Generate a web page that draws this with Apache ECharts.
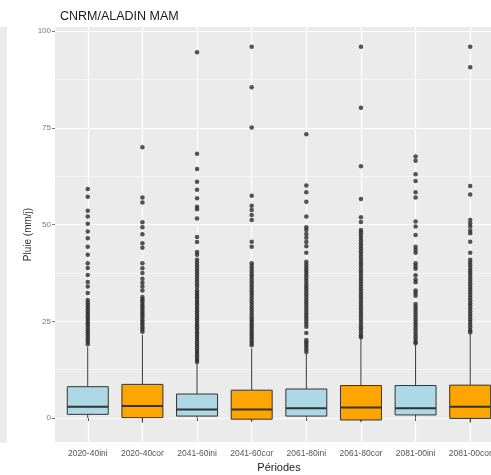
<!DOCTYPE html>
<html>
<head>
<meta charset="utf-8">
<script src="https://cdn.jsdelivr.net/npm/echarts@6/dist/echarts.min.js"></script>
<style>
  html, body { margin: 0; padding: 0; background: #fff; }
  #chart { width: 491px; height: 475px; }
</style>
</head>
<body>
<div id="chart"></div>
<script>
// catégories (périodes)
const periodes = ['2020-40ini', '2020-40cor', '2041-60ini', '2041-60cor', '2061-80ini', '2061-80cor', '2081-00ini', '2081-00cor']
// boîtes : [min, q1, médiane, q3, max]
const boites = [
  [0, 0.95, 2.9, 8.1, 18.4],
  [-1.2, 0.1, 3.1, 8.7, 21.5],
  [0.1, 0.5, 2.2, 6.2, 14],
  [-1, -0.3, 2.2, 7.2, 18],
  [0.1, 0.5, 2.5, 7.5, 16.7],
  [-1.1, -0.5, 2.7, 8.4, 20.6],
  [0.1, 0.8, 2.5, 8.4, 18.9],
  [-1.2, -0.1, 2.9, 8.5, 21.9]
]
// valeurs extrêmes (outliers) par période
const out2020ini = [59.2, 57.2, 53.6, 52.1, 50.2, 48.2, 46.5, 44.3, 42.2, 40, 38.8, 37, 35.2, 34, 32.3,
  30.5, 29.9, 29.3, 28.7, 28.1, 27.5, 26.9, 26.3, 25.7, 25.1, 24.5, 23.9, 23.3, 22.7, 22.1, 21.5, 20.9, 20.3, 19.7, 19.1]
const out2020cor = [70, 57, 55.7, 50.6, 49.3, 47.5, 45.2, 44, 40, 38.7, 37.5, 36, 35, 34, 33, 31.3,
  30.7, 30.1, 29.5, 28.9, 28.3, 27.7, 27.1, 26.5, 25.9, 25.3, 24.7, 24.1, 23.5, 22.9, 22.3]
const out2041ini = [94.6, 68.3, 64.4, 61.1, 59, 56.8, 54.6, 54, 51.6, 46.8, 45.5, 42.9, 42.2, 40.9, 40.2, 39.5, 38.8,
  38.1, 37.4, 36.7, 36, 35.3, 34.6, 33.9, 33, 32.4, 31.8, 31.2, 30.6, 30, 29.4, 28.8, 28.2, 27.6, 27, 26.4, 25.8,
  25.2, 24.6, 24, 23.4, 22.8, 22.2, 21.6, 21, 20.4, 19.8, 19.2, 18.6, 18, 17.4, 16.8, 16.2, 15.6, 15, 14.5]
const out2041cor = [96, 85.5, 75.1, 57.5, 54.9, 53.8, 52.5, 51.2, 45.6, 44.3, 40, 39.3, 38.6, 37.9, 37.2, 36.5,
  35.8, 35.1, 34.4, 33.7, 33, 32.3, 31.6, 30.9, 30.2, 29.5, 28.8, 28.1, 27.4, 26.7, 26, 25.4, 24.8, 24.2, 23.6,
  23, 22.4, 21.8, 21.2, 20.6, 20, 19.4, 18.8]
const out2061ini = [73.4, 60.1, 58.4, 55.9, 52.1, 49.3, 48.6, 47.6, 46.6, 45.5, 44.4, 42.7, 40.4, 39.7, 39, 38.3,
  37.6, 36.9, 36.2, 35.5, 34.8, 34.1, 33.4, 32.7, 32, 31.3, 30.6, 29.9, 29.2, 28.5, 27.8, 27.1, 26.4, 25.7, 25,
  24.3, 23.6, 22, 20.2, 19.6, 19, 18.4, 17.8, 17.1]
const out2061cor = [96, 80.2, 65.1, 56.6, 51.9, 50.7, 48.6, 48, 47.3, 46.6, 45.9, 45.2, 44.5, 43.8, 43.1, 42.4,
  41.7, 41, 40.3, 39.6, 38.9, 38.2, 37.5, 36.8, 36.1, 35.4, 34.7, 34, 33.3, 32.6, 31.9, 31.2, 30.5, 29.8, 29.1,
  28.4, 27.7, 27, 26.3, 25.6, 24.9, 24.2, 23.5, 22.8, 22.1, 21.4, 20.9]
const out2081ini = [67.6, 66.5, 63, 61.3, 58.4, 57, 50.8, 49.5, 47.3, 44.3, 43.5, 42.7, 40, 39.3, 38.6, 36.9,
  35.8, 35.1, 33, 32.3, 31.6, 29.5, 28.8, 28.1, 27.4, 26.7, 26, 25.3, 24.6, 23.9, 23.2, 22.5, 21.8, 21.1, 20.4,
  19.7, 19.3]
const out2081cor = [96, 90.7, 60, 57.8, 51.2, 50.3, 49.5, 48.5, 47.8, 45.6, 42.7, 40.9, 40.2, 39.5, 38.8, 38.1,
  37.4, 36.7, 36, 35.3, 34.6, 33.9, 33.2, 32.5, 31.8, 31.1, 30.4, 29.7, 29, 28.3, 27.6, 26.9, 26.2, 25.5, 24.8,
  24.1, 23.4, 22.7, 22.2]
const outliers = [out2020ini, out2020cor, out2041ini, out2041cor, out2061ini, out2061cor, out2081ini, out2081cor]
// graduations
const xPos = [1, 2, 3, 4, 5, 6, 7, 8]
const yLabels = [0, 25, 50, 75, 100]
const yGrid = [0, 12.5, 25, 37.5, 50, 62.5, 75, 87.5, 100]

const fillIni = '#add8e6'
const fillCor = '#ffa500'

let boxData = boites.map((b, i) => [xPos[i]].concat(b))
let outData = []
outliers.forEach((arr, i) => {
  arr.forEach(v => outData.push([xPos[i], v]))
})

const chart = echarts.init(document.getElementById('chart'))
chart.setOption({
  animation: false,
  backgroundColor: '#fff',
  textStyle: { fontFamily: 'Liberation Sans, Arial, sans-serif' },
  title: {
    text: 'CNRM/ALADIN MAM',
    left: 55,
    top: 5,
    textStyle: { fontSize: 12.5, fontWeight: 'normal', color: '#1a1a1a' }
  },
  // le panneau dépasse à droite de l'image (coupé)
  grid: {
    left: 55,
    top: 27,
    width: 448,
    height: 415,
    outerBoundsMode: 'none',
    show: true,
    backgroundColor: '#ebebeb',
    borderWidth: 0
  },
  xAxis: {
    type: 'value',
    min: 0.4,
    max: 8.6,
    name: 'Périodes',
    nameLocation: 'middle',
    nameMoveOverlap: false,
    nameGap: 20,
    nameTextStyle: { fontSize: 11, color: '#1a1a1a' },
    axisLine: { show: false },
    axisTick: { show: true, length: 3, customValues: xPos, lineStyle: { color: '#555' } },
    axisLabel: {
      fontSize: 8.5, color: '#555', margin: 7, customValues: xPos,
      formatter: v => periodes[v - 1]
    },
    splitLine: { show: true, lineStyle: { color: '#fff', width: 1.2 } }
  },
  yAxis: [{
    type: 'value',
    min: -6.2,
    max: 101.1,
    name: 'Pluie (mm/j)',
    nameLocation: 'middle',
    nameMoveOverlap: false,
    nameGap: 22,
    nameTextStyle: { fontSize: 10, color: '#333' },
    axisLine: { show: false },
    axisTick: { show: true, length: 3, customValues: yLabels, lineStyle: { color: '#777' } },
    axisLabel: { fontSize: 8, color: '#777', margin: 4, customValues: yLabels },
    splitLine: { show: false }
  }, {
    type: 'value',
    min: -6.2,
    max: 101.1,
    position: 'left',
    axisLine: { show: false },
    axisTick: { show: false, customValues: yGrid },
    axisLabel: { show: false },
    splitLine: { show: true, lineStyle: { color: ['#ffffff', '#f6f6f6'], width: 1 } }
  }],
  graphic: [
    { type: 'rect', shape: { x: 0, y: 27, width: 7, height: 416 }, style: { fill: '#ebebeb' }, z: -1 }
  ],
  series: [{
    type: 'custom',
    data: boxData,
    encode: { x: 0, y: [1, 2, 3, 4, 5] },
    z: 3,
    renderItem(params, api) {
      const x = api.value(0)
      const pMin = api.coord([x, api.value(1)])
      const pQ1 = api.coord([x, api.value(2)])
      const pMed = api.coord([x, api.value(3)])
      const pQ3 = api.coord([x, api.value(4)])
      const pMax = api.coord([x, api.value(5)])
      const w = api.size([1, 0])[0] * 0.75
      const cx = pQ1[0]
      const fill = periodes[params.dataIndex].endsWith('ini') ? fillIni : fillCor
      const lineStyle = { stroke: '#333', lineWidth: 1 }
      return {
        type: 'group',
        children: [
          { type: 'line', shape: { x1: cx, y1: pQ3[1], x2: cx, y2: pMax[1] }, style: lineStyle },
          { type: 'line', shape: { x1: cx, y1: pQ1[1], x2: cx, y2: pMin[1] }, style: lineStyle },
          { type: 'rect', shape: { x: cx - w / 2, y: pQ3[1], width: w, height: pQ1[1] - pQ3[1] },
            style: { fill, stroke: '#333', lineWidth: 1 } },
          { type: 'line', shape: { x1: cx - w / 2, y1: pMed[1], x2: cx + w / 2, y2: pMed[1] },
            style: { stroke: '#333', lineWidth: 2 } }
        ]
      }
    }
  }, {
    type: 'scatter',
    data: outData,
    symbolSize: 4.5,
    z: 4,
    itemStyle: { color: '#2b2b2b' }
  }]
})
</script>
</body>
</html>
